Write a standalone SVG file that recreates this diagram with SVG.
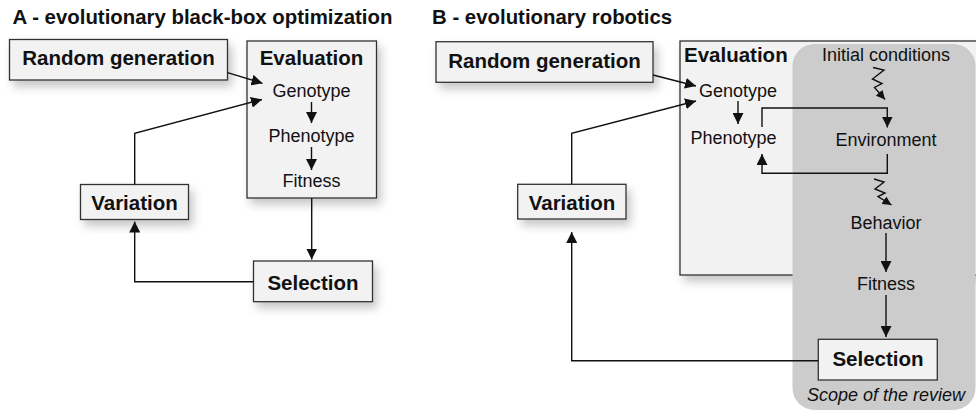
<svg xmlns="http://www.w3.org/2000/svg" width="976" height="412" viewBox="0 0 976 412">
  <style>
    .title { font-family: "Liberation Sans", Arial, sans-serif; font-weight: bold; font-size: 20.4px; fill: #111; }
    .node { fill: #f2f2f2; stroke: #333; stroke-width: 1.3; }
    .label { font-family: "Liberation Sans", Arial, sans-serif; font-weight: bold; font-size: 20.5px; fill: #111; text-anchor: middle; }
    .step { font-family: "Liberation Sans", Arial, sans-serif; font-size: 18px; fill: #111; text-anchor: middle; }
    .note { font-family: "Liberation Sans", Arial, sans-serif; font-size: 18px; font-style: italic; fill: #111; text-anchor: middle; }
    .wire { fill: none; stroke: #111; stroke-width: 1.4; }
    .shadowed { filter: url(#shadow); }
  </style>
  <defs>
    <marker id="arrow" viewBox="0 0 10 10" refX="10" refY="5" markerWidth="11" markerHeight="11" markerUnits="userSpaceOnUse" orient="auto">
      <path d="M0,0 L10,5 L0,10 z" fill="#111"/>
    </marker>
    <marker id="arrowSmall" viewBox="0 0 10 10" refX="10" refY="5" markerWidth="9" markerHeight="9" markerUnits="userSpaceOnUse" orient="auto">
      <path d="M0,0 L10,5 L0,10 z" fill="#111"/>
    </marker>
    <filter id="shadow" x="-20%" y="-20%" width="150%" height="160%">
      <feDropShadow dx="4" dy="6" stdDeviation="5" flood-color="#000" flood-opacity="0.22"/>
    </filter>
  </defs>

  <!-- Panel titles -->
  <text class="title" x="12.5" y="24">A - evolutionary black-box optimization</text>
  <text class="title" x="432" y="24">B - evolutionary robotics</text>

  <!-- ===== Panel A ===== -->
  <g id="a-random-generation">
    <rect class="node shadowed" x="9.5" y="39.5" width="218" height="40.5"/>
    <text class="label" x="118.5" y="65">Random generation</text>
  </g>
  <g id="a-evaluation">
    <rect class="node shadowed" x="247" y="41" width="129.5" height="157"/>
    <text class="label" x="311.5" y="65">Evaluation</text>
    <text class="step" x="311.5" y="97">Genotype</text>
    <text class="step" x="311.5" y="142">Phenotype</text>
    <text class="step" x="311.5" y="187">Fitness</text>
  </g>
  <g id="a-variation">
    <rect class="node shadowed" x="80.5" y="184.5" width="108" height="35"/>
    <text class="label" x="134.5" y="209.5">Variation</text>
  </g>
  <g id="a-selection">
    <rect class="node shadowed" x="253.5" y="261" width="119" height="40.7"/>
    <text class="label" x="313" y="289.5">Selection</text>
  </g>

  <!-- ===== Panel B ===== -->
  <g id="b-evaluation">
    <rect class="node shadowed" x="680" y="41" width="310" height="234"/>
    <text class="label" x="684" y="62" style="text-anchor:start">Evaluation</text>
  </g>
  <g id="b-scope">
    <rect x="792.5" y="44" width="183" height="366" rx="22" ry="22" fill="#cccccc"/>
    <text class="note" x="886" y="400.5">Scope of the review</text>
  </g>
  <g id="b-steps">
    <text class="step" x="886" y="60.5">Initial conditions</text>
    <text class="step" x="738" y="97">Genotype</text>
    <text class="step" x="733.5" y="144">Phenotype</text>
    <text class="step" x="886" y="145.5">Environment</text>
    <text class="step" x="886" y="228.5">Behavior</text>
    <text class="step" x="886" y="290">Fitness</text>
  </g>
  <g id="b-random-generation">
    <rect class="node shadowed" x="436" y="41.7" width="217" height="40.6"/>
    <text class="label" x="544.5" y="68">Random generation</text>
  </g>
  <g id="b-variation">
    <rect class="node shadowed" x="517.7" y="184.3" width="108.3" height="34.7"/>
    <text class="label" x="572" y="209.5">Variation</text>
  </g>
  <g id="b-selection">
    <rect class="node" x="818.3" y="339.3" width="119" height="40.7"/>
    <text class="label" x="878" y="366">Selection</text>
  </g>

  <!-- ===== Connectors ===== -->
  <g id="connectors">
    <!-- Panel A -->
    <path class="wire" d="M227.5,72.7 L262.5,83.3" marker-end="url(#arrow)"/>
    <path class="wire" d="M134.7,184.5 L134.7,133.3 L262,99.5" marker-end="url(#arrow)"/>
    <path class="wire" d="M311.5,102 L311.5,123" marker-end="url(#arrow)"/>
    <path class="wire" d="M311.5,147 L311.5,170" marker-end="url(#arrow)"/>
    <path class="wire" d="M311.7,198 L311.7,259.5" marker-end="url(#arrow)"/>
    <path class="wire" d="M253.5,281.7 L134.7,281.7 L134.7,221.5" marker-end="url(#arrow)"/>

    <!-- Panel B -->
    <path class="wire" d="M653,75 L696,86" marker-end="url(#arrow)"/>
    <path class="wire" d="M571.7,184.3 L571.7,133.3 L696,101" marker-end="url(#arrow)"/>
    <path class="wire" d="M738,101 L738,124" marker-end="url(#arrow)"/>
    <path class="wire" d="M762,127 L762,108 L887.3,108 L887.3,127.5" marker-end="url(#arrow)"/>
    <path class="wire" d="M887.3,154 L887.3,173.3 L762,173.3 L762,154" marker-end="url(#arrow)"/>
    <path class="wire" d="M873,67.5 L884,70 L872.5,79 L882,83.5 L874.5,87.5 L885,99.5" marker-end="url(#arrowSmall)"/>
    <path class="wire" d="M874,179 L884,182 L875,189 L885,193 L878,196.5 L891.5,205" marker-end="url(#arrowSmall)"/>
    <path class="wire" d="M886,233 L886,272" marker-end="url(#arrow)"/>
    <path class="wire" d="M886,295 L886,337" marker-end="url(#arrow)"/>
    <path class="wire" d="M818.3,360.7 L571.7,360.7 L571.7,232" marker-end="url(#arrow)"/>
  </g>
</svg>
